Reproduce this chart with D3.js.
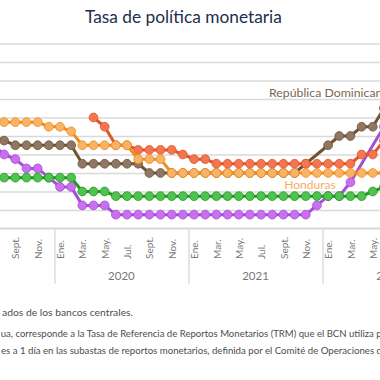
<!DOCTYPE html>
<html><head><meta charset="utf-8">
<script src="https://cdn.jsdelivr.net/npm/d3@7"></script>
<style>html,body{margin:0;padding:0;background:#fff;overflow:hidden}svg{display:block;font-family:Lato,"Open Sans",sans-serif}</style>
</head><body><svg id="c" width="380" height="380"></svg>
<script>
// ---- data ----
const months = ["2019-07","2019-08","2019-09","2019-10","2019-11","2019-12",
  "2020-01","2020-02","2020-03","2020-04","2020-05","2020-06","2020-07","2020-08","2020-09","2020-10","2020-11","2020-12",
  "2021-01","2021-02","2021-03","2021-04","2021-05","2021-06","2021-07","2021-08","2021-09","2021-10","2021-11","2021-12",
  "2022-01","2022-02","2022-03","2022-04","2022-05","2022-06"];
const monthNames = ["Ene.","Feb.","Mar.","Abr.","May.","Jun.","Jul.","Ago.","Sept.","Oct.","Nov.","Dic."];
const years = ["2020","2021","2022"];

const honduras = [5.75,5.75,5.75,5.75,5.75,5.5, 5.5,5.25,4.5,4.5,4.5,4.5,4.5,3.75,3.75,3.75,3.0,3.0,
  3.0,3.0,3.0,3.0,3.0,3.0,3.0,3.0,3.0,3.0,3.0,3.0, 3.0,3.0,3.0,3.0,3.0,3.0];
const repDominicana = [5.0,4.75,4.5,4.5,4.5,4.5, 4.5,4.5,3.5,3.5,3.5,3.5,3.5,3.5,3.0,3.0,3.0,3.0,
  3.0,3.0,3.0,3.0,3.0,3.0,3.0,3.0,3.0,3.0,3.5,null, 4.5,5.0,5.0,5.5,5.5,6.5];
const nicaragua = [null,null,null,null,null,null, null,null,null,6.0,5.5,4.5,4.5,4.25,4.25,4.25,4.25,4.0,
  3.75,3.75,3.5,3.5,3.5,3.5,3.5,3.5,3.5,3.5,3.5,3.5, 3.5,3.5,3.5,4.0,4.0,4.75];
const guatemala = [2.75,2.75,2.75,2.75,2.75,2.75, 2.75,2.75,2.0,2.0,2.0,1.75,1.75,1.75,1.75,1.75,1.75,1.75,
  1.75,1.75,1.75,1.75,1.75,1.75,1.75,1.75,1.75,1.75,1.75,1.75, 1.75,1.75,1.75,1.75,2.0,2.25];
const costaRica = [4.5,4.0,3.75,3.25,3.25,2.75, 2.25,2.25,1.25,1.25,1.25,0.75,0.75,0.75,0.75,0.75,0.75,0.75,
  0.75,0.75,0.75,0.75,0.75,0.75,0.75,0.75,0.75,0.75,0.75,1.25, 1.75,1.75,2.5,null,null,5.5];

const series = [
  {name:"Costa Rica", values:costaRica, line:"#a24fd4", dot:"#c96ff0"},
  {name:"República Dominicana", values:repDominicana, line:"#6e5535", dot:"#907763"},
  {name:"Nicaragua", values:nicaragua, line:"#e1532b", dot:"#f27750"},
  {name:"Honduras", values:honduras, line:"#f28c1a", dot:"#f8b466"},
  {name:"Guatemala", values:guatemala, line:"#1f9a1f", dot:"#50c250"}
];

// ---- chart ----
const W = 380;
const svg = d3.select("#c");
const x = d3.scaleLinear().domain([6, 30]).range([60, 328.1]);
const y = d3.scaleLinear().domain([0, 10]).range([228.5, 43.5]);

// title
svg.append("text").attr("x", 183.4).attr("y", 23).attr("text-anchor","middle")
  .attr("font-size", 16.5).attr("fill","#1c2f4d").attr("textLength",197).attr("lengthAdjust","spacingAndGlyphs")
  .text("Tasa de política monetaria");

// gridlines
const grid = svg.append("g")
  .call(d3.axisRight(y).tickValues(d3.range(1, 11)).tickSize(W).tickFormat(""));
grid.select(".domain").remove();
grid.selectAll("line").attr("stroke","#d9d9d9").attr("stroke-width",1.3);

// base axis line + month labels
const labelled = months.map((m,i)=>i).filter(i => +months[i].slice(5)%2===1 && x(i) > 8);
const base = svg.append("g").attr("transform",`translate(0,${y(0)})`)
  .call(d3.axisBottom(x).tickValues(labelled).tickSize(0)
    .tickFormat(i => monthNames[+months[i].slice(5)-1]));
base.select(".domain").remove();
base.append("line").attr("x1",0).attr("x2",W).attr("stroke","#d6d6d6").attr("stroke-width",1.8);
base.selectAll(".tick text")
  .attr("transform","rotate(-90)").attr("text-anchor","start")
  .attr("x",-30.5).attr("y",0).attr("dy","0.36em")
  .attr("font-size",10).attr("fill","#777").attr("font-family","Lato,sans-serif");

// year dividers
const yearStart = years.map(yr => months.indexOf(yr + "-01"));
const div = svg.append("g").attr("transform",`translate(0,${y(0)})`)
  .call(d3.axisBottom(x).tickValues(yearStart.map(i => i - 0.5)).tickSize(55).tickFormat(""));
div.select(".domain").remove();
div.selectAll("line").attr("stroke","#dcdcdc").attr("stroke-width",1.5);

// year labels
svg.append("g").selectAll("text").data(years).join("text")
  .attr("x", (d,k) => x(yearStart[k] + 5.5)).attr("y", 280)
  .attr("text-anchor","middle").attr("font-size",11.5).attr("fill","#777")
  .text(d => d);

// series
const line = d3.line().x(d => x(d.i)).y(d => y(d.v));
series.forEach(s => {
  const pts = s.values.map((v,i) => ({i, v})).filter(d => d.v != null);
  const g = svg.append("g");
  g.append("path").datum(pts).attr("d", line).attr("fill","none")
    .attr("stroke", s.line).attr("stroke-width", 3).attr("stroke-linejoin","round");
  g.selectAll("circle").data(pts).join("circle")
    .attr("cx", d => x(d.i)).attr("cy", d => y(d.v)).attr("r", 4.4)
    .attr("fill", s.dot).attr("stroke", s.line).attr("stroke-width", 0.8);
});

// series labels
svg.append("text").attr("x",269).attr("y",97).attr("font-size",12.2).attr("fill","#7d6750")
  .attr("textLength",119.5).attr("lengthAdjust","spacingAndGlyphs").text("República Dominicana");
svg.append("text").attr("x",284.3).attr("y",188.5).attr("font-size",12.2).attr("fill","#f6ad5e")
  .attr("textLength",51.4).attr("lengthAdjust","spacingAndGlyphs").text("Honduras");

// footnotes
const notes = [
  {t:"ados de los bancos centrales.", x:2, y:315.5, len:131},
  {t:"ua, corresponde a la Tasa de Referencia de Reportos Monetarios (TRM) que el BCN utiliza p", x:0.7, y:336.5, len:381},
  {t:"es a 1 día en las subastas de reportos monetarios, definida por el Comité de Operaciones d", x:1, y:354, len:381}
];
svg.append("g").selectAll("text").data(notes).join("text")
  .attr("x", d => d.x).attr("y", d => d.y).attr("font-size", 9.6).attr("fill","#4d4d4d")
  .attr("textLength", d => d.len).attr("lengthAdjust","spacingAndGlyphs")
  .text(d => d.t);
</script></body></html>
